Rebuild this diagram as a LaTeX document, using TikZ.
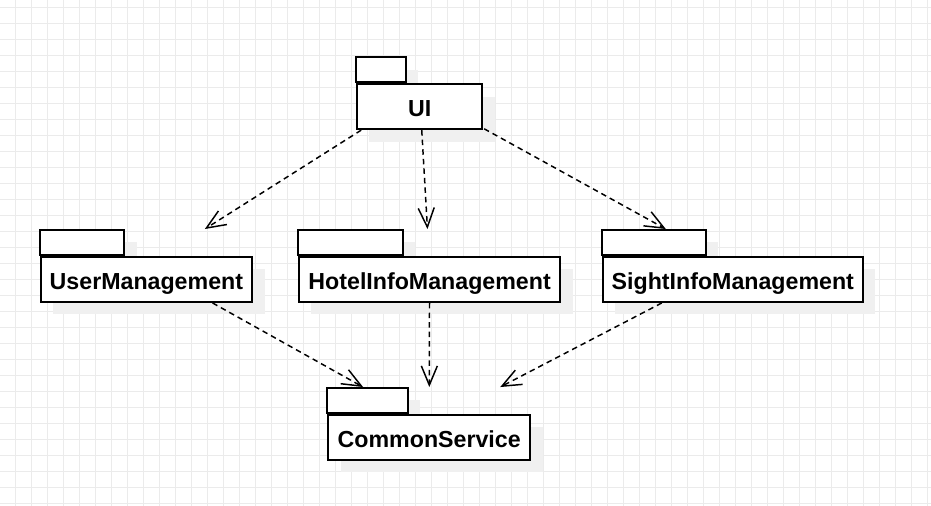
\documentclass[tikz,border=0pt]{standalone}
\usepackage{fontspec}
\setmainfont{Liberation Sans}
\usetikzlibrary{arrows.meta,shadows}

\begin{document}
\begin{tikzpicture}[
    gridline/.style={line width=0.7pt, color=black!8},
    pkgshadow/.style={drop shadow={shadow xshift=0.31cm, shadow yshift=-0.31cm, fill=black!6, opacity=1}},
    pkg/.style={rectangle, minimum height=1.75cm, inner sep=0pt, outer sep=1.4pt},
    pkgtab/.style={rectangle, draw=black, fill=white, line width=1.4pt, minimum height=0.625cm, inner sep=0pt, anchor=north west, pkgshadow},
    pkgbody/.style={rectangle, draw=black, fill=white, line width=1.4pt, minimum height=1.125cm, inner sep=0pt, anchor=south, text height=0.5cm, text depth=0cm, font=\fontsize{16.5}{19.8}\selectfont\bfseries, pkgshadow},
    dep/.style={line width=1.05pt, dash pattern=on 3.9pt off 2.9pt, -{Straight Barb[length=0.48cm, width=0.4cm]}}]
			\path[use as bounding box, fill=white] (0cm,0cm) rectangle (23.275cm,-12.65cm);
			\foreach \i in {0,...,57} \draw[gridline] (0.3875cm+\i*0.4cm,0cm) -- ++(0cm,-12.65cm);
			\foreach \j in {0,...,31} \draw[gridline] (0cm,-0.1875cm-\j*0.4cm) -- ++(23.275cm,0cm);
			\draw (10.49cm,-2.33cm) node[pkg, minimum width=3.13cm, name=ui] {};
			\draw (ui.north west) node[pkgtab, minimum width=1.25cm, name=uiTab] {};
			\draw (ui.south) node[pkgbody, minimum width=3.13cm, name=uiBody] {UI};
			\draw (3.66cm,-6.65cm) node[pkg, minimum width=5.29cm, name=user] {};
			\draw (user.north west) node[pkgtab, minimum width=2.12cm, name=userTab] {};
			\draw (user.south) node[pkgbody, minimum width=5.29cm, name=userBody] {UserManagement};
			\draw (10.74cm,-6.65cm) node[pkg, minimum width=6.54cm, name=hotel] {};
			\draw (hotel.north west) node[pkgtab, minimum width=2.62cm, name=hotelTab] {};
			\draw (hotel.south) node[pkgbody, minimum width=6.54cm, name=hotelBody] {HotelInfoManagement};
			\draw (18.32cm,-6.65cm) node[pkg, minimum width=6.51cm, name=sight] {};
			\draw (sight.north west) node[pkgtab, minimum width=2.6cm, name=sightTab] {};
			\draw (sight.south) node[pkgbody, minimum width=6.51cm, name=sightBody] {SightInfoManagement};
			\draw (10.73cm,-10.6cm) node[pkg, minimum width=5.05cm, name=common] {};
			\draw (common.north west) node[pkgtab, minimum width=2.02cm, name=commonTab] {};
			\draw (common.south) node[pkgbody, minimum width=5.05cm, name=commonBody] {CommonService};
			\draw[dep] (ui) -- (user);
			\draw[dep] (ui) -- (hotel);
			\draw[dep] (ui) -- (sight);
			\draw[dep] (user) -- (common);
			\draw[dep] (hotel) -- (common);
			\draw[dep] (sight) -- (common);
\end{tikzpicture}
\end{document}
